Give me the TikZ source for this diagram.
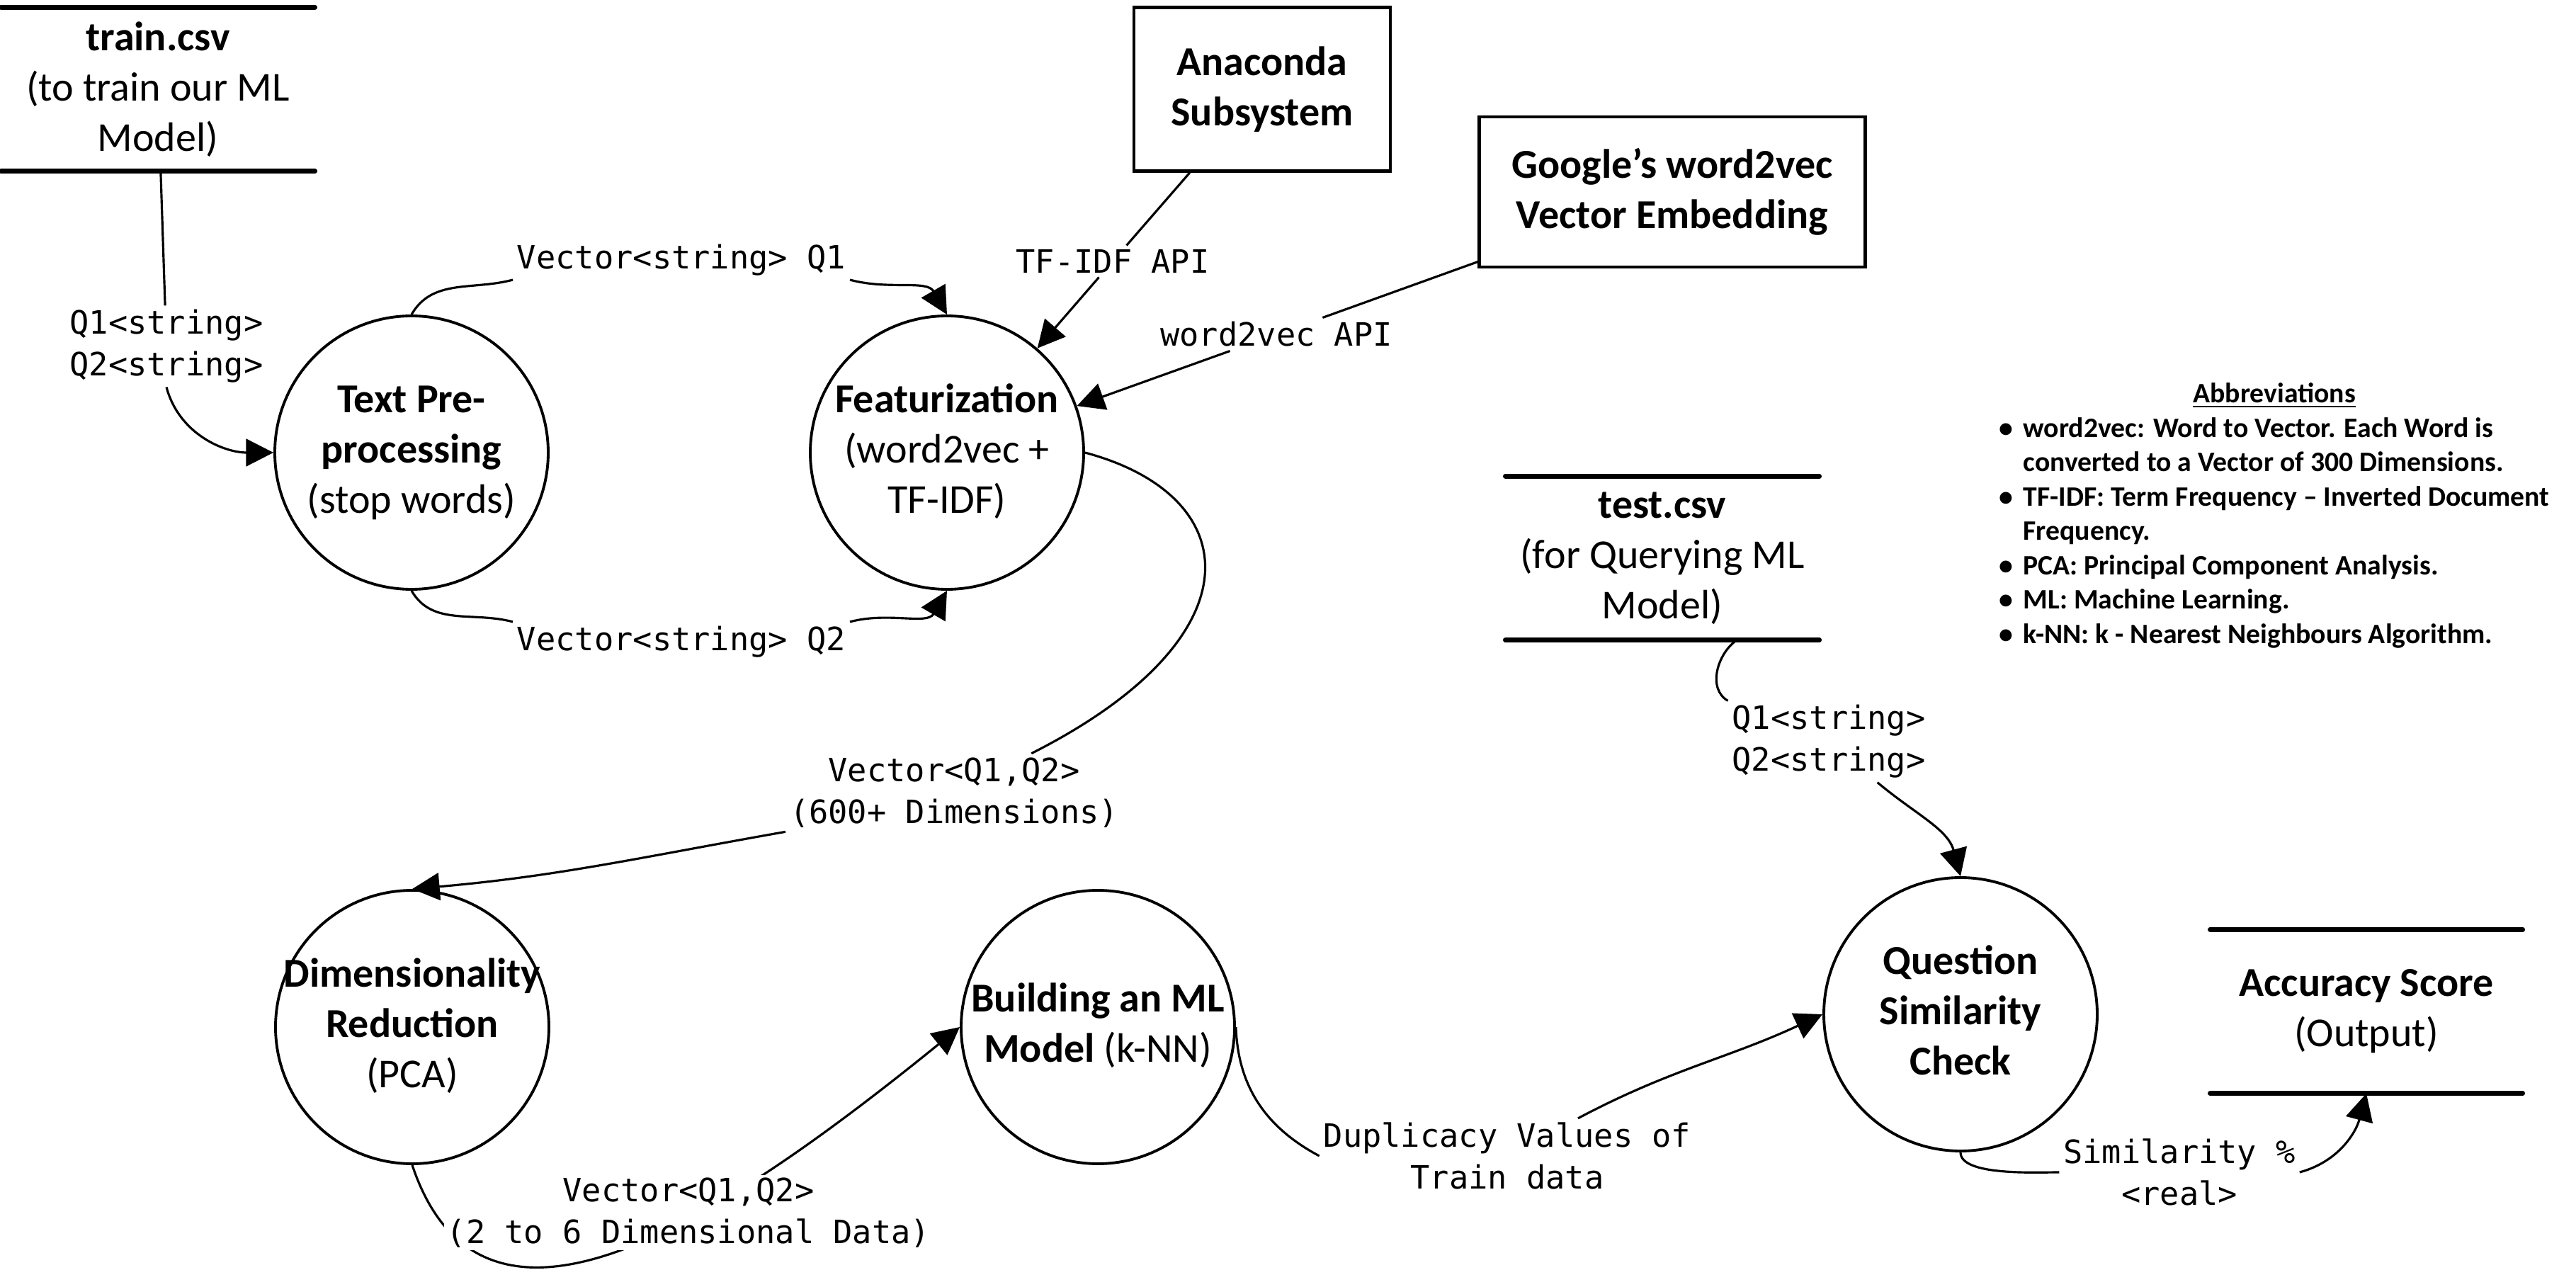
\documentclass[tikz,border=0pt]{standalone}
\usepackage{fontspec}
\setmainfont{Carlito}
\setmonofont{DejaVu Sans Mono}
\usetikzlibrary{arrows.meta}

% text of a process bubble, kept from widening the circle
\newcommand{\proctext}[1]{\makebox[0pt]{\begin{tabular}{@{}c@{}}#1\end{tabular}}}

\begin{document}
\begin{tikzpicture}[
        process/.style={circle, draw, line width=1.1pt, minimum size=3.86cm, inner sep=0pt,
            font=\fontsize{16.5}{20.2}\selectfont},
        extbox/.style={rectangle, draw, line width=1.3pt, align=center,
            font=\fontsize{16.5}{20.2}\selectfont\bfseries},
        datastore/.style={rectangle, align=center, minimum width=4.42cm, minimum height=2.3cm,
            font=\fontsize{16.5}{20.2}\selectfont},
        flowlabel/.style={fill=white, inner sep=1.5pt, align=center,
            font=\fontsize{12.9}{16.8}\selectfont\ttfamily},
        flow/.style={line width=0.9pt},
        toflow/.style={flow, -{Triangle[length=11pt,width=11pt]}},
        storeline/.style={line width=1.9pt, line cap=round}
    ]
        \useasboundingbox (0, 0) rectangle (36.37, 17.92);

        % data stores and outside entities
        \node[datastore] (train) at (2.23, 16.66) {\textbf{train.csv}\\(to train our ML\\Model)};
        \node[datastore] (test) at (23.47, 10.04) {\textbf{test.csv}\\(for Querying ML\\Model)};
        \node[datastore, minimum width=4.40cm] (acc) at (33.41, 3.64) {\textbf{Accuracy Score}\\(Output)};
        \node[extbox, minimum width=3.62cm, minimum height=2.31cm] (anaconda) at (17.82, 16.66) {Anaconda\\Subsystem};
        \node[extbox, minimum width=5.45cm, minimum height=2.12cm] (google) at (23.61, 15.21) {Google’s word2vec\\Vector Embedding};

        \begin{scope}[storeline]
            \draw (train.north west) -- (train.north east);
            \draw (train.south west) -- (train.south east);
            \draw (test.north west) -- (test.north east);
            \draw (test.south west) -- (test.south east);
            \draw (acc.north west) -- (acc.north east);
            \draw (acc.south west) -- (acc.south east);
        \end{scope}

        % processes
        \node[process] (textpre) at (5.81, 11.53) {\proctext{\textbf{Text Pre-}\\\textbf{processing}\\(stop words)}};
        \node[process] (feat) at (13.37, 11.53) {\proctext{\textbf{Featurization}\\(word2vec +\\TF-IDF)}};
        \node[process] (dimred) at (5.82, 3.42) {\proctext{\textbf{Dimensionality}\\\textbf{Reduction}\\(PCA)}};
        \node[process] (build) at (15.50, 3.42) {\proctext{\textbf{Building an ML}\\\textbf{Model} (k-NN)}};
        \node[process] (qsim) at (27.68, 3.60) {\proctext{\textbf{Question}\\\textbf{Similarity}\\\textbf{Check}}};

        % flow labels
        \node[flowlabel] (lq) at (2.35, 13.03) {Q1<string>\\Q2<string>};
        \node[flowlabel] (lv1) at (9.62, 14.25) {Vector<string> Q1};
        \node[flowlabel] (lv2) at (9.62, 8.86) {Vector<string> Q2};
        \node[flowlabel] (ltfidf) at (15.71, 14.23) {TF-IDF API};
        \node[flowlabel] (lw2v) at (18.02, 13.20) {word2vec API};
        \node[flowlabel] (lvq) at (13.47, 6.73) {Vector<Q1,Q2>\\(600+ Dimensions)};
        \node[flowlabel] (ldup) at (21.28, 1.60) {Duplicacy Values of\\Train data};
        \node[flowlabel] (lq2) at (25.82, 7.45) {Q1<string>\\Q2<string>};
        \node[flowlabel] (lsim) at (30.77, 1.37) {Similarity \%\\<real>};

        % training questions
        \draw[flow] (train) -- (lq);
        \draw[toflow] (lq.south) to[out=-75, in=180] (textpre.west);
        \draw[flow] (textpre.north) to[out=60, in=195] (lv1.south west);
        \draw[toflow] (lv1.south east) to[out=-15, in=120] (feat.north);
        \draw[flow] (textpre.south) to[out=-60, in=165] (lv2.north west);
        \draw[toflow] (lv2.north east) to[out=15, in=-120] (feat.south);

        % the two APIs
        \draw[flow] (anaconda) -- (ltfidf);
        \draw[toflow] (ltfidf) -- (feat);
        \draw[flow] (google) -- (lw2v);
        \draw[toflow] (lw2v) -- (feat);

        \draw[flow] (feat.east) .. controls (17.60, 10.92) and (17.80, 8.92) .. (lvq);
        \draw[toflow] (lvq.south west) to[out=190, in=5] (dimred.north);

        % this one runs under its label, so the label comes after it
        \draw[toflow] (dimred.south) .. controls (6.80, -1.45) and (10.00, 0.54) .. (build.west);
        \node[flowlabel, inner sep=1pt] (lvd) at (9.72, 0.80) {Vector<Q1,Q2>\\(2 to 6 Dimensional Data)};

        \draw[flow] (build.east) to[out=-88, in=152] (ldup.west);
        \draw[toflow] (ldup) to[out=28, in=205] (qsim.west);

        % querying side
        \draw[flow] ([xshift=1.05cm]test.south) to[out=-145, in=150] (lq2.north west);
        \draw[toflow] (lq2) to[out=-40, in=105] (qsim.north);
        \draw[flow] (qsim.south) to[out=-90, in=180, looseness=0.6] (lsim.west);
        \draw[toflow] (lsim.east) to[out=15, in=-105] (acc.south);

        \node[anchor=west, inner sep=0pt, font=\fontsize{11.3}{13.8}\selectfont\bfseries] (abbrev) at (28.22, 10.63) {%
            \begin{tabular}{@{}l@{\hspace{4pt}}l@{}}
                \multicolumn{2}{c}{\underline{Abbreviations}}\\
                \textbullet & word2vec: Word to Vector. Each Word is\\
                 & converted to a Vector of 300 Dimensions.\\
                \textbullet & TF-IDF: Term Frequency -- Inverted Document\\
                 & Frequency.\\
                \textbullet & PCA: Principal Component Analysis.\\
                \textbullet & ML: Machine Learning.\\
                \textbullet & k-NN: k - Nearest Neighbours Algorithm.
            \end{tabular}};

    \end{tikzpicture}
\end{document}
